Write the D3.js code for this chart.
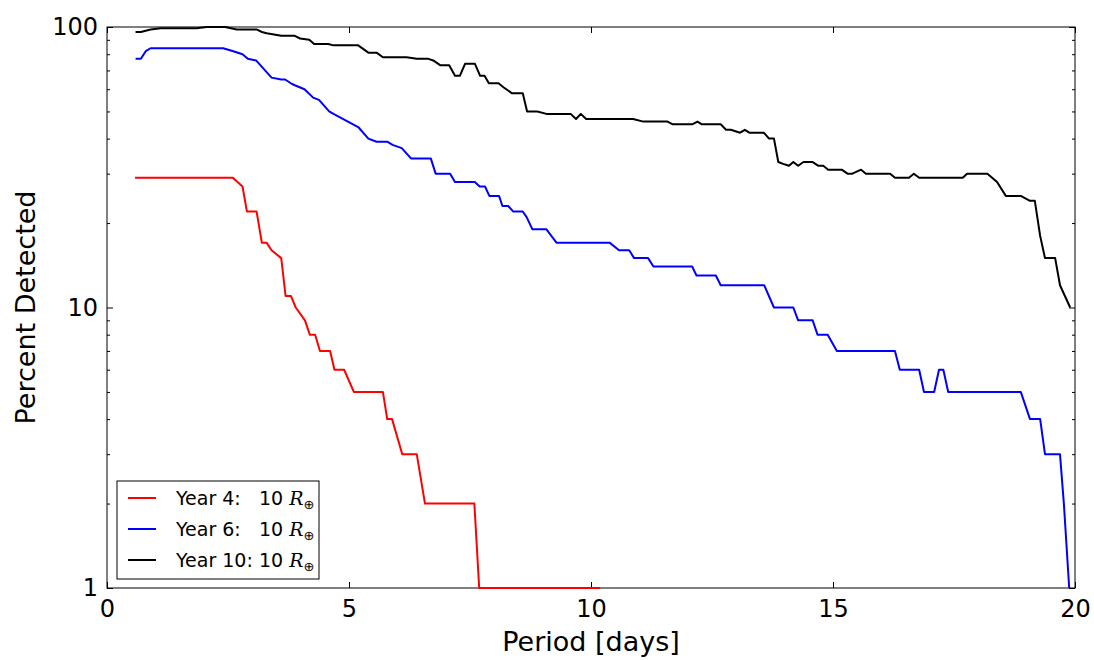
<!DOCTYPE html>
<html>
<head>
<meta charset="utf-8">
<script src="https://cdn.jsdelivr.net/npm/d3@7"></script>
<style>
  body { margin: 0; background: #fff; }
  svg { font-family: "DejaVu Sans", sans-serif; }
</style>
</head>
<body>
<svg id="chart" width="1094" height="660"></svg>
<script>
// [period (days), percent detected] corner points
const year4 = [
  [0.58, 29], [2.60, 29], [2.80, 27], [2.89, 22], [3.09, 22], [3.20, 17], [3.30, 17],
  [3.40, 16], [3.60, 15], [3.69, 11], [3.80, 11], [3.90, 10], [4.09, 9], [4.19, 8],
  [4.30, 8], [4.40, 7], [4.61, 7], [4.70, 6], [4.90, 6], [5.10, 5], [5.70, 5],
  [5.79, 4], [5.89, 4], [6.10, 3], [6.40, 3], [6.57, 2], [7.59, 2], [7.69, 1], [10.19, 1]
];
const year6 = [
  [0.59, 77], [0.70, 77], [0.80, 82], [0.90, 84], [2.40, 84], [2.61, 82], [2.80, 80],
  [2.91, 77], [3.08, 76], [3.40, 66], [3.60, 65], [3.68, 65], [3.80, 63], [3.88, 62],
  [4.08, 60], [4.26, 56], [4.38, 55], [4.59, 50], [4.68, 49], [5.19, 44], [5.40, 40],
  [5.57, 39], [5.79, 39], [5.90, 38], [6.09, 37], [6.28, 34], [6.69, 34], [6.79, 30],
  [7.09, 30], [7.19, 28], [7.60, 28], [7.70, 27], [7.81, 27], [7.90, 25], [8.10, 25],
  [8.17, 23], [8.29, 23], [8.39, 22], [8.59, 22], [8.67, 21], [8.79, 19], [9.08, 19],
  [9.29, 17], [10.39, 17], [10.58, 16], [10.79, 16], [10.89, 15], [11.18, 15], [11.29, 14],
  [12.09, 14], [12.18, 13], [12.58, 13], [12.68, 12], [13.58, 12], [13.78, 10], [14.18, 10],
  [14.28, 9], [14.58, 9], [14.68, 8], [14.89, 8], [15.08, 7], [16.28, 7], [16.38, 6],
  [16.78, 6], [16.88, 5], [17.09, 5], [17.19, 6], [17.28, 6], [17.38, 5], [18.88, 5],
  [19.07, 4], [19.28, 4], [19.38, 3], [19.69, 3], [19.77, 2], [19.88, 1]
];
const year10 = [
  [0.59, 96], [0.70, 96], [0.80, 97], [0.90, 98], [1.11, 99], [1.85, 99], [2.06, 100],
  [2.44, 100], [2.68, 98], [3.09, 98], [3.20, 96], [3.30, 95], [3.60, 93], [3.88, 93],
  [3.99, 91], [4.18, 90], [4.28, 87], [4.57, 87], [4.68, 86], [5.19, 86], [5.40, 81],
  [5.57, 81], [5.70, 78], [6.19, 78], [6.40, 77], [6.64, 77], [6.74, 76], [6.89, 73],
  [7.07, 73], [7.19, 67], [7.29, 67], [7.40, 74], [7.60, 74], [7.71, 67], [7.80, 67],
  [7.89, 63], [8.09, 63], [8.19, 61], [8.37, 58], [8.59, 58], [8.68, 50], [8.89, 50],
  [9.08, 49], [9.58, 49], [9.69, 47], [9.79, 49], [9.90, 47], [10.87, 47], [11.08, 46],
  [11.58, 46], [11.69, 45], [12.09, 45], [12.20, 46], [12.29, 45], [12.68, 45], [12.79, 43],
  [12.89, 43], [13.08, 42], [13.18, 43], [13.27, 42], [13.57, 42], [13.68, 40], [13.78, 40],
  [13.87, 33], [13.97, 32.5], [14.09, 32], [14.18, 33], [14.28, 32], [14.39, 33], [14.58, 33],
  [14.70, 32], [14.80, 32], [14.90, 31], [15.18, 31], [15.30, 30], [15.40, 30], [15.58, 31],
  [15.68, 30], [16.18, 30], [16.28, 29], [16.57, 29], [16.67, 30], [16.78, 29], [17.68, 29],
  [17.77, 30], [18.19, 30], [18.39, 28], [18.57, 25], [18.88, 25], [19.07, 24], [19.17, 24],
  [19.28, 18], [19.38, 15], [19.59, 15], [19.69, 12], [19.90, 10]
];

const series = [
  { label: "Year 4:", data: year4, color: "#ff0000" },
  { label: "Year 6:", data: year6, color: "#0000ff" },
  { label: "Year 10:", data: year10, color: "#000000" }
];
const xTicks = [0, 5, 10, 15, 20];
const yTicks = [1, 10, 100];

const svg = d3.select("#chart");
const margin = { top: 27, right: 19, bottom: 72, left: 107 };
const w = 1094 - margin.left - margin.right, h = 660 - margin.top - margin.bottom;

const x = d3.scaleLinear().domain([0, 20]).range([0, w]);
const y = d3.scaleLog().domain([1, 100]).range([h, 0]);

const g = svg.append("g").attr("transform", `translate(${margin.left},${margin.top})`);

g.append("clipPath").attr("id", "clip").append("rect")
  .attr("x", 0).attr("y", -1).attr("width", w).attr("height", h + 2);

// frame first, so lines sitting on the edges stay visible
g.append("rect").attr("width", w).attr("height", h)
  .attr("fill", "none").attr("stroke", "#000").attr("stroke-width", 1);

// minor log ticks
const minor = [];
for (let dec = 1; dec < 100; dec *= 10) for (let k = 2; k <= 9; k++) minor.push(dec * k);

// axes with inward ticks, matplotlib style
const styleAxis = sel => {
  sel.select(".domain").remove();
  sel.selectAll("line").attr("stroke", "#000");
  sel.selectAll("text").attr("fill", "#000").attr("font-size", 24).attr("font-family", "DejaVu Sans");
};
g.append("g").attr("transform", `translate(0,${h})`)
  .call(d3.axisBottom(x).tickValues(xTicks).tickSize(-6).tickPadding(12).tickFormat(d3.format("d")))
  .call(styleAxis);
g.append("g")
  .call(d3.axisTop(x).tickValues(xTicks).tickSize(-6).tickFormat(""))
  .call(styleAxis);
g.append("g")
  .call(d3.axisLeft(y).tickValues(yTicks).tickSize(-6).tickPadding(9).tickFormat(d3.format("d")))
  .call(styleAxis);
g.append("g").attr("transform", `translate(${w},0)`)
  .call(d3.axisRight(y).tickValues(yTicks).tickSize(-6).tickFormat(""))
  .call(styleAxis);
g.append("g")
  .call(d3.axisLeft(y).tickValues(minor).tickSize(-3).tickFormat(""))
  .call(styleAxis);
g.append("g").attr("transform", `translate(${w},0)`)
  .call(d3.axisRight(y).tickValues(minor).tickSize(-3).tickFormat(""))
  .call(styleAxis);

const line = d3.line().x(d => x(d[0])).y(d => y(d[1]));
series.forEach(s => {
  g.append("path").datum(s.data)
    .attr("clip-path", "url(#clip)")
    .attr("fill", "none").attr("stroke", s.color).attr("stroke-width", 2)
    .attr("stroke-linejoin", "round")
    .attr("d", line);
});

g.append("text").attr("x", w / 2).attr("y", h + 63).attr("text-anchor", "middle")
  .attr("font-size", 27).text("Period [days]");
g.append("text").attr("transform", "rotate(-90)").attr("x", -h / 2).attr("y", -72)
  .attr("text-anchor", "middle").attr("font-size", 27).text("Percent Detected");

// legend
const lg = svg.append("g").attr("transform", "translate(117,481)");
lg.append("rect").attr("width", 202).attr("height", 98)
  .attr("fill", "#fff").attr("stroke", "#000").attr("stroke-width", 1);
series.forEach((s, i) => {
  const yy = 17 + i * 31;
  lg.append("line").attr("x1", 11).attr("x2", 39).attr("y1", yy).attr("y2", yy)
    .attr("stroke", s.color).attr("stroke-width", 2);
  lg.append("text").attr("x", 59).attr("y", yy + 7).attr("font-size", 19).text(s.label);
  const t = lg.append("text").attr("x", 142).attr("y", yy + 7).attr("font-size", 19);
  t.append("tspan").text("10 ");
  t.append("tspan").attr("font-family", "DejaVu Serif").attr("font-style", "italic").text("R");
  t.append("tspan").attr("font-size", 13).attr("dy", 4).text("\u2295");
});
</script>
</body>
</html>
